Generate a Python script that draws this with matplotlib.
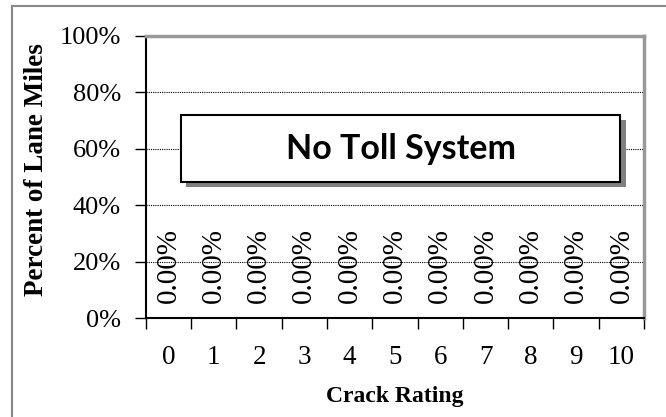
import matplotlib
matplotlib.use("Agg")
import matplotlib.pyplot as plt
import matplotlib.ticker as mtick
from matplotlib.patches import Rectangle
from matplotlib.lines import Line2D
import numpy as np

# crack rating categories and share of lane miles (all zero for this system)
ratings = ["0", "1", "2", "3", "4", "5", "6", "7", "8", "9", "10"]
percent = [0.0, 0.0, 0.0, 0.0, 0.0, 0.0, 0.0, 0.0, 0.0, 0.0, 0.0]
y_ticks = [0, 20, 40, 60, 80, 100]
title_text = "No Toll System"

plt.rcParams["font.family"] = ["Liberation Serif", "DejaVu Serif"]

fig = plt.figure(figsize=(6.66, 4.17), dpi=100)
ax = fig.add_axes([0.219, 0.237, 0.748, 0.677])

x = np.arange(len(ratings))
bars = ax.bar(x, percent, width=0.6, color="#4F81BD")
ax.bar_label(bars, labels=[f"{v:.2f}%" for v in percent], padding=11,
             rotation=90, fontsize=21)

ax.set_xlim(-0.5, len(ratings) - 0.5)
ax.set_ylim(0, 100)
ax.set_yticks(y_ticks)
ax.yaxis.set_major_formatter(mtick.FuncFormatter(lambda v, p: f"{v:.0f}%"))
ax.set_xticks(x)
ax.set_xticklabels(ratings)
ax.set_xticks(np.arange(-0.5, len(ratings), 1.0), minor=True)
ax.tick_params(axis="x", which="major", length=0, pad=19, labelsize=19.5)
ax.tick_params(axis="x", which="minor", length=8, width=1, direction="out")
ax.tick_params(axis="y", length=8, width=1, pad=10, labelsize=19)

for yv in y_ticks[1:-1]:
    ax.axhline(yv, color="black", lw=0.8, ls=(0, (1, 1)), zorder=0)

for s in ["left", "bottom"]:
    ax.spines[s].set_color("black")
    ax.spines[s].set_linewidth(1.5)
for s in ["top", "right"]:
    ax.spines[s].set_color("#999999")
    ax.spines[s].set_linewidth(2.5)

ax.set_xlabel("Crack Rating", fontsize=17, fontweight="bold", labelpad=12)
ax.set_ylabel("Percent of Lane Miles", fontsize=19.5, fontweight="bold")
ax.yaxis.set_label_coords(-0.195, 0.525)

# label box with drop shadow
bx0, by0, bw, bh = 0.0703, 0.482, 0.882, 0.238
ax.add_patch(Rectangle((bx0 + 0.011, by0 - 0.018), bw, bh, transform=ax.transAxes,
                       facecolor="#808080", edgecolor="none", zorder=3))
ax.add_patch(Rectangle((bx0, by0), bw, bh, transform=ax.transAxes,
                       facecolor="white", edgecolor="black", lw=1.5, zorder=4))
ax.text(bx0 + bw / 2, by0 + bh / 2, title_text, transform=ax.transAxes,
        ha="center", va="center", fontsize=24.5, fontweight="bold",
        family=["Lato", "DejaVu Sans"], zorder=5)

# outer chart frame (partly cropped)
fig.add_artist(Line2D([0.0185, 1.0], [0.986, 0.986], color="#888888", lw=1.5))
fig.add_artist(Line2D([0.0185, 0.0185], [0.0, 0.986], color="#888888", lw=1.5))

fig.savefig("out.png", dpi=100)
